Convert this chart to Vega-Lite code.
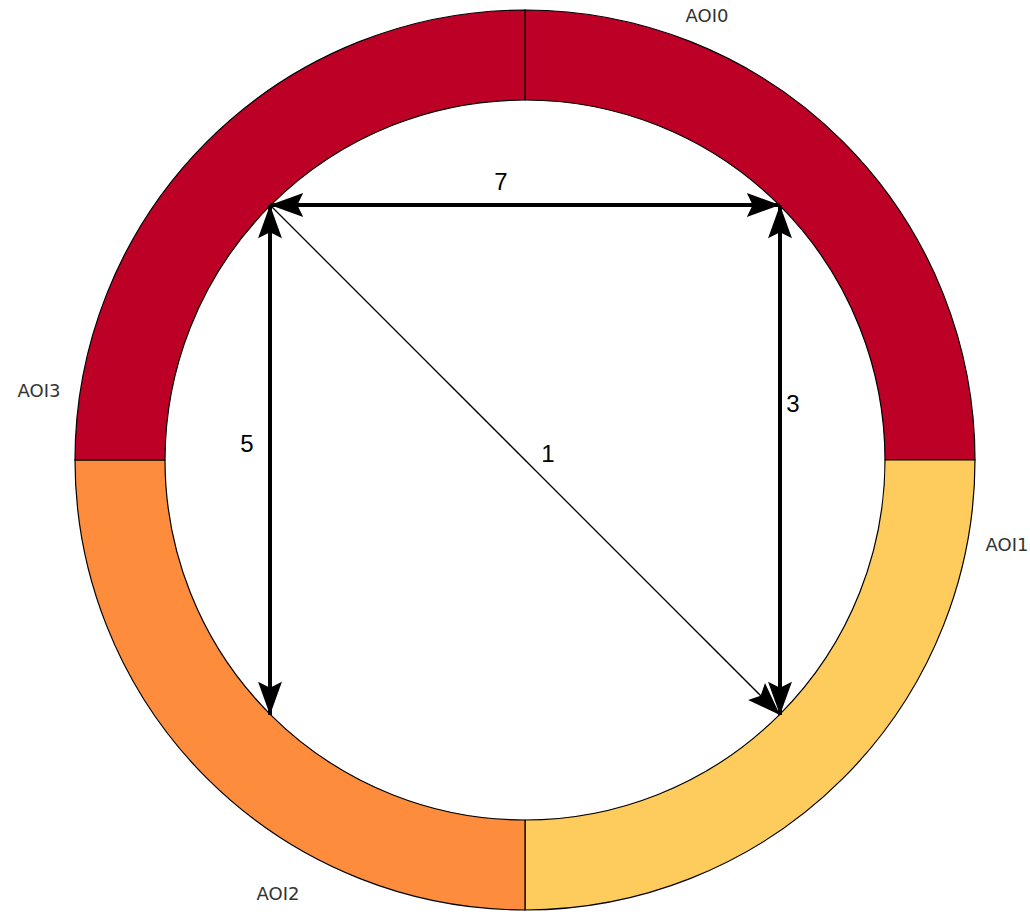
{
  "$schema": "https://vega.github.io/schema/vega-lite/v6.json",
  "autosize": "none",
  "width": 900,
  "height": 900,
  "padding": {"left": 75, "top": 10, "right": 55, "bottom": 4},
  "background": "white",
  "config": {"view": {"stroke": null}},
  "datasets": {
    "aois": [
      {"aoi": "AOI0", "idx": 0, "value": 1},
      {"aoi": "AOI1", "idx": 1, "value": 1},
      {"aoi": "AOI2", "idx": 2, "value": 1},
      {"aoi": "AOI3", "idx": 3, "value": 1}
    ],
    "transitions": [
      {"count": "7", "kind": "both", "x": -255, "y": 255, "x2": 255, "y2": 255},
      {"count": "3", "kind": "both", "x": 255, "y": 255, "x2": 255, "y2": -255},
      {"count": "5", "kind": "both", "x": -255, "y": 255, "x2": -255, "y2": -255},
      {"count": "1", "kind": "one", "x": -255, "y": 255, "x2": 255, "y2": -255}
    ],
    "heads": [
      {"x": -255, "y": 255, "dir": 270},
      {"x": 255, "y": 255, "dir": 90},
      {"x": 255, "y": 255, "dir": 0},
      {"x": 255, "y": -255, "dir": 180},
      {"x": -255, "y": 255, "dir": 0},
      {"x": -255, "y": -255, "dir": 180},
      {"x": 255, "y": -255, "dir": 135}
    ],
    "countLabels": [
      {"label": "7", "x": -24, "y": 277},
      {"label": "3", "x": 268, "y": 55},
      {"label": "5", "x": -278, "y": 15},
      {"label": "1", "x": 23, "y": 5}
    ],
    "aoiLabels": [
      {"label": "AOI0", "x": 182, "y": 443},
      {"label": "AOI1", "x": 482, "y": -86},
      {"label": "AOI2", "x": -247, "y": -435},
      {"label": "AOI3", "x": -486, "y": 68}
    ]
  },
  "layer": [
    {
      "data": {"name": "aois"},
      "mark": {"type": "arc", "radius": 450, "radius2": 360, "stroke": "black", "strokeWidth": 1.2},
      "encoding": {
        "theta": {"field": "value", "type": "quantitative", "stack": true},
        "order": {"field": "idx", "type": "quantitative"},
        "color": {
          "field": "aoi", "type": "nominal", "legend": null,
          "scale": {"domain": ["AOI0", "AOI1", "AOI2", "AOI3"], "range": ["#bd0026", "#fecc5c", "#fd8d3c", "#bd0026"]}
        }
      }
    },
    {
      "data": {"name": "transitions"},
      "transform": [{"filter": "datum.kind === 'both'"}],
      "mark": {"type": "rule", "color": "black", "strokeWidth": 4},
      "encoding": {
        "x": {"field": "x", "type": "quantitative", "scale": {"domain": [-450, 450], "nice": false, "zero": false}, "axis": null},
        "y": {"field": "y", "type": "quantitative", "scale": {"domain": [-450, 450], "nice": false, "zero": false}, "axis": null},
        "x2": {"field": "x2"},
        "y2": {"field": "y2"}
      }
    },
    {
      "data": {"name": "transitions"},
      "transform": [{"filter": "datum.kind === 'one'"}],
      "mark": {"type": "rule", "color": "black", "strokeWidth": 1.3},
      "encoding": {
        "x": {"field": "x", "type": "quantitative", "scale": {"domain": [-450, 450], "nice": false, "zero": false}, "axis": null},
        "y": {"field": "y", "type": "quantitative", "scale": {"domain": [-450, 450], "nice": false, "zero": false}, "axis": null},
        "x2": {"field": "x2"},
        "y2": {"field": "y2"}
      }
    },
    {
      "data": {"name": "heads"},
      "mark": {"type": "point", "shape": "M0,0 L-0.72,2 L0,1.65 L0.72,2 Z", "size": 1100, "filled": true, "color": "black", "opacity": 1, "strokeWidth": 0},
      "encoding": {
        "x": {"field": "x", "type": "quantitative", "scale": {"domain": [-450, 450], "nice": false, "zero": false}, "axis": null},
        "y": {"field": "y", "type": "quantitative", "scale": {"domain": [-450, 450], "nice": false, "zero": false}, "axis": null},
        "angle": {"field": "dir", "type": "quantitative", "scale": null}
      }
    },
    {
      "data": {"name": "countLabels"},
      "mark": {"type": "text", "font": "Liberation Sans", "fontSize": 24, "color": "black", "align": "center", "baseline": "middle"},
      "encoding": {
        "x": {"field": "x", "type": "quantitative", "scale": {"domain": [-450, 450], "nice": false, "zero": false}, "axis": null},
        "y": {"field": "y", "type": "quantitative", "scale": {"domain": [-450, 450], "nice": false, "zero": false}, "axis": null},
        "text": {"field": "label"}
      }
    },
    {
      "data": {"name": "aoiLabels"},
      "mark": {"type": "text", "font": "DejaVu Sans", "fontSize": 18, "color": "#333333", "align": "center", "baseline": "middle"},
      "encoding": {
        "x": {"field": "x", "type": "quantitative", "scale": {"domain": [-450, 450], "nice": false, "zero": false}, "axis": null},
        "y": {"field": "y", "type": "quantitative", "scale": {"domain": [-450, 450], "nice": false, "zero": false}, "axis": null},
        "text": {"field": "label"}
      }
    }
  ]
}
